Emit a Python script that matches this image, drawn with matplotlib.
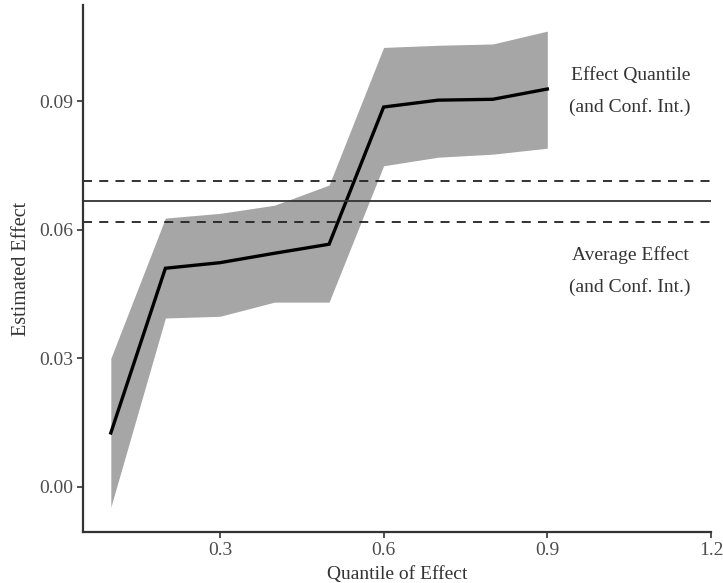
import numpy as np
import matplotlib
matplotlib.use("Agg")
import matplotlib.pyplot as plt

plt.rcParams['font.family'] = ['Liberation Serif', 'DejaVu Serif']

# quantile effect estimates with confidence band
quantiles = [0.1, 0.2, 0.3, 0.4, 0.5, 0.6, 0.7, 0.8, 0.9]
estimate = [0.0126, 0.0510, 0.0523, 0.0545, 0.0566, 0.0886, 0.0902, 0.0904, 0.0928]
ci_low = [-0.0047, 0.0394, 0.0398, 0.0431, 0.0431, 0.0749, 0.0769, 0.0776, 0.0790]
ci_high = [0.0300, 0.0627, 0.0638, 0.0657, 0.0704, 0.1025, 0.1030, 0.1033, 0.1063]

# average effect and its confidence interval
avg_effect = 0.0666
avg_low = 0.0617
avg_high = 0.0714

x_ticks = [0.3, 0.6, 0.9, 1.2]
y_ticks = [0.00, 0.03, 0.06, 0.09]

fig = plt.figure(figsize=(7.23, 5.83), dpi=100)
ax = fig.add_axes([0.1148, 0.0875, 0.8686, 0.904])

ax.fill_between(quantiles, ci_low, ci_high, color='#a6a6a6', linewidth=0)
ax.plot(quantiles, estimate, color='black', linewidth=2.4, solid_joinstyle='miter')

ax.axhline(avg_effect, color='#333333', linewidth=1.3)
ax.axhline(avg_low, color='#222222', linewidth=1.3, linestyle=(0, (5, 4)))
ax.axhline(avg_high, color='#222222', linewidth=1.3, linestyle=(0, (5, 4)))

txt_kw = dict(ha='center', va='center', fontsize=14, color='#333333')
ax.text(1.052, 0.0960, 'Effect Quantile', **txt_kw)
ax.text(1.052, 0.0886, '(and Conf. Int.)', **txt_kw)
ax.text(1.052, 0.0541, 'Average Effect', **txt_kw)
ax.text(1.052, 0.0466, '(and Conf. Int.)', **txt_kw)

ax.set_xlim(0.049, 1.2)
ax.set_ylim(-0.0105, 0.1124)
ax.set_xticks(x_ticks)
ax.set_xticklabels(['0.3', '0.6', '0.9', '1.2'])
ax.set_yticks(y_ticks)
ax.set_yticklabels(['0.00', '0.03', '0.06', '0.09'])

for side in ['top', 'right']:
    ax.spines[side].set_visible(False)
for side in ['left', 'bottom']:
    ax.spines[side].set_color('#333333')
    ax.spines[side].set_linewidth(1.6)

ax.tick_params(axis='both', direction='out', length=4, width=1.2, color='#333333',
               labelsize=14, labelcolor='#4d4d4d', pad=3)

ax.set_xlabel('Quantile of Effect', fontsize=14, color='#333333', labelpad=5)
ax.set_ylabel('Estimated Effect', fontsize=14.5, color='#333333', labelpad=6)

fig.savefig('out.png', dpi=100)
